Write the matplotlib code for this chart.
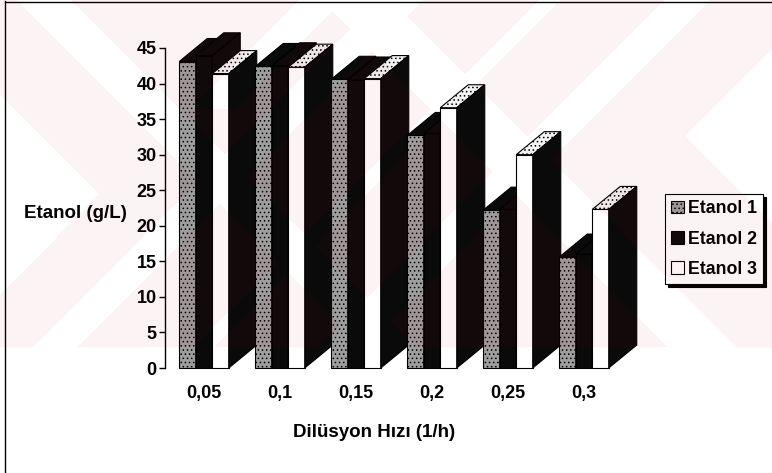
import numpy as np
import matplotlib.pyplot as plt
from matplotlib.patches import Polygon, Patch
from matplotlib.lines import Line2D

plt.rcParams['font.family'] = ['Liberation Sans', 'DejaVu Sans']
plt.rcParams['font.weight'] = 'bold'
plt.rcParams['hatch.linewidth'] = 0.6

# dilution rate (1/h) and ethanol (g/L) for the three runs
dilusyon = ['0,05', '0,1', '0,15', '0,2', '0,25', '0,3']
etanol1 = [43.1, 42.4, 40.6, 32.7, 22.2, 15.6]
etanol2 = [43.9, 42.5, 40.5, 33.0, 22.3, 16.0]
etanol3 = [41.4, 42.3, 40.7, 36.6, 30.0, 22.3]
seri_adlari = ['Etanol 1', 'Etanol 2', 'Etanol 3']

W, H = 772, 473
fig = plt.figure(figsize=(W / 100, H / 100), dpi=100)
fig.patch.set_facecolor('white')

# axes placed so the 0..45 scale sits between y=368 and y=48 px
ax_l, ax_r, ax_b, ax_t = 165, 660, 368, 48
ax = fig.add_axes([ax_l / W, 1 - ax_b / H, (ax_r - ax_l) / W, (ax_b - ax_t) / H])
ax.set_facecolor('none')

grup = 76.0                     # px between category groups
x0px = 204.0                    # px of first group centre
xmin = -(x0px - ax_l) / grup
xmax = (ax_r - x0px) / grup
ax.set_xlim(xmin, xmax)
ax.set_ylim(0, 45)

w = 16.5 / grup                 # bar width
dx = 28 / grup                  # depth offset
dy = 23 / ((ax_b - ax_t) / 45)

on_renk = ['#9e9e9e', '#0a0a0a', 'white']
ust_renk = ['#0a0a0a', '#0a0a0a', '#f2f2f2']
on_desen = ['....', None, None]
ust_desen = [None, None, '....']

seriler = [etanol1, etanol2, etanol3]
z = 2.0
for i in range(len(dilusyon)):
    for s, seri in enumerate(seriler):
        v = seri[i]
        x = i + (s - 1) * w - w / 2
        ax.bar(x, v, width=w, align='edge', facecolor=on_renk[s],
               edgecolor='black', linewidth=0.8, hatch=on_desen[s],
               zorder=z, clip_on=False)
        ust = Polygon([(x, v), (x + w, v), (x + w + dx, v + dy), (x + dx, v + dy)],
                      closed=True, facecolor=ust_renk[s], edgecolor='black',
                      linewidth=0.8, hatch=ust_desen[s], zorder=z, clip_on=False)
        yan = Polygon([(x + w, 0), (x + w + dx, dy), (x + w + dx, v + dy), (x + w, v)],
                      closed=True, facecolor='#0a0a0a', edgecolor='black',
                      linewidth=0.8, zorder=z, clip_on=False)
        ax.add_patch(ust)
        ax.add_patch(yan)
        z += 0.01

for sp in ['top', 'right', 'bottom']:
    ax.spines[sp].set_visible(False)
ax.spines['left'].set_linewidth(1.0)
ax.set_yticks(range(0, 50, 5))
ax.tick_params(axis='y', direction='out', length=4, width=1, labelsize=13, pad=2)
ax.set_xticks(range(len(dilusyon)))
ax.set_xticklabels(dilusyon)
ax.tick_params(axis='x', length=0, labelsize=13, pad=12)
for t in ax.get_xticklabels() + ax.get_yticklabels():
    t.set_fontweight('bold')

ax.set_ylabel('Etanol (g/L)', rotation=0, fontsize=13.5, fontweight='bold',
              ha='center', va='center')
ax.yaxis.set_label_coords((75 - ax_l) / (ax_r - ax_l), (ax_b - 213) / (ax_b - ax_t))
ax.set_xlabel('Dilüsyon Hızı (1/h)', fontsize=13.5, fontweight='bold', va='center')
ax.xaxis.set_label_coords((374 - ax_l) / (ax_r - ax_l), -(432 - ax_b) / (ax_b - ax_t))

tutamac = [Patch(facecolor=on_renk[0], edgecolor='black', hatch='....', linewidth=0.8),
           Patch(facecolor=on_renk[1], edgecolor='black', linewidth=0.8),
           Patch(facecolor=on_renk[2], edgecolor='black', linewidth=0.8)]
leg = fig.legend(tutamac, seri_adlari, loc='upper left',
                 bbox_to_anchor=(665 / W, 1 - 194 / H), borderaxespad=0,
                 prop={'weight': 'bold', 'size': 12.8},
                 handlelength=0.7, handleheight=0.7, handletextpad=0.25,
                 labelspacing=0.75, borderpad=0.35, fancybox=False,
                 shadow={'color': 'black', 'alpha': 1.0})
leg.get_frame().set_edgecolor('black')
leg.get_frame().set_linewidth(0.8)

# outer chart frame (left and top edges)
fig.add_artist(Line2D([5 / W, 5 / W], [0, 1 - 1 / H], color='black', linewidth=1,
                      transform=fig.transFigure))
fig.add_artist(Line2D([5 / W, 1], [1 - 2 / H, 1 - 2 / H], color='black', linewidth=1,
                      transform=fig.transFigure))

# faint diagonal watermark band behind the upper part of the page
yy, xx = np.mgrid[0:H, 0:W] + 0.5
toplam = xx + yy
fark = xx - yy
beyaz = ((fark > 15) & (fark < 70)) \
    | ((fark < -95) & (toplam < 295)) \
    | ((toplam > 380) & (toplam < 425)) \
    | ((toplam > 300) & (toplam < 345) & (yy < 110)) \
    | ((toplam > 540) & (toplam < 562)) \
    | ((toplam > 665) & (toplam < 712)) \
    | ((toplam > 822) & (fark > 548)) \
    | ((fark > 320) & (fark < 390))
pembe = (yy < 347) & ~beyaz
rgba = np.zeros((H, W, 4))
rgba[..., 0] = 200 / 255
rgba[..., 1] = 0.0
rgba[..., 2] = 30 / 255
rgba[..., 3] = np.where(pembe, 0.05, 0.0)
ov = fig.add_axes([0, 0, 1, 1], zorder=10)
ov.imshow(rgba, extent=[0, W, H, 0], aspect='auto', interpolation='nearest')
ov.set_xlim(0, W)
ov.set_ylim(H, 0)
ov.axis('off')

fig.savefig('out.png', dpi=100)
